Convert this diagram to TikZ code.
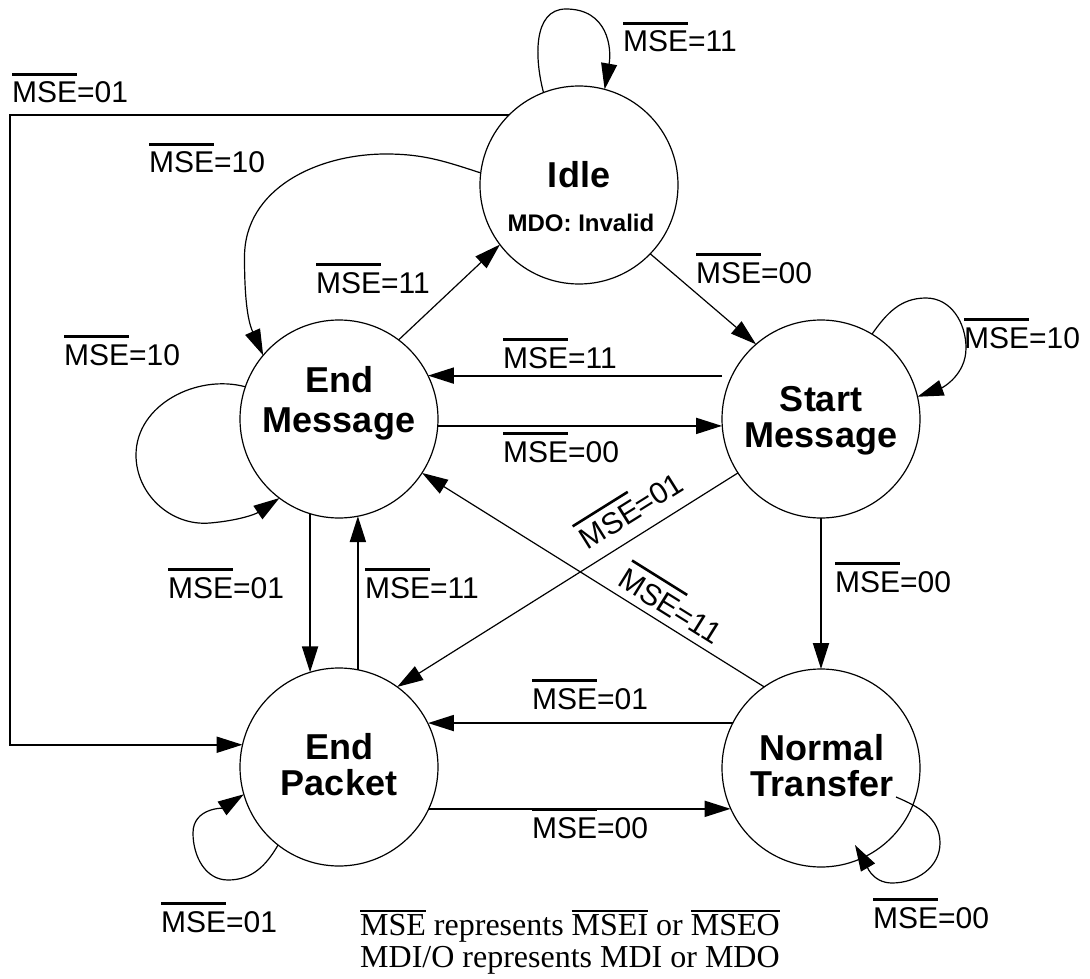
\documentclass[tikz,border=0pt]{standalone}
\usepackage{fontspec}
\setmainfont{Liberation Serif}
\setsansfont{Liberation Sans}
\usetikzlibrary{arrows.meta}

% overlined text: sans labels and serif note
\newcommand\ovl[1]{\vbox{\hrule height 2.6pt\kern 6.5pt\hbox{#1}}}
\newcommand\ovs[1]{\vbox{\hrule height 2pt\kern 1.5pt\hbox{#1}}}

\tikzset{
  state/.style={circle, draw, line width=1.2pt, minimum size=198pt, inner sep=0pt, outer sep=0pt},
  stname/.style={font=\sffamily\bfseries\fontsize{36}{40}\selectfont, anchor=base, inner sep=0pt},
  stsub/.style={font=\sffamily\bfseries\fontsize{24}{28}\selectfont, anchor=base, inner sep=0pt},
  cond/.style={font=\sffamily\fontsize{30}{34}\selectfont, anchor=base west, inner sep=0pt},
  note/.style={font=\fontsize{32}{32}\selectfont, anchor=base west, inner sep=0pt},
  trans/.style={line width=2pt, -{Triangle[length=26pt,width=16pt]}},
  ltrans/.style={line width=1.2pt, -{Triangle[length=26pt,width=16pt]}},
}

\begin{document}
\begin{tikzpicture}[x=1pt,y=1pt]
\useasboundingbox (0,0) rectangle (1090,-979);

% states
\node[state] (idle) at (579,-185) {};
\node[state] (em) at (339,-419) {};
\node[state] (sm) at (821,-419) {};
\node[state] (ep) at (339,-767) {};
\node[state] (nt) at (821,-768) {};

% state names
\node[stname] (idle-t) at (579,-188) {Idle};
\node[stsub] (idle-s) at (581,-231) {MDO: Invalid};
\node[stname] (em-t1) at (339,-392) {End};
\node[stname] (em-t2) at (339,-432) {Message};
\node[stname] (sm-t1) at (821,-411) {Start};
\node[stname] (sm-t2) at (821,-447) {Message};
\node[stname] (ep-t1) at (339,-759) {End};
\node[stname] (ep-t2) at (339,-795) {Packet};
\node[stname] (nt-t1) at (822,-760) {Normal};
\node[stname] (nt-t2) at (822,-796) {Transfer};

\coordinate (lft) at (10,-400);

% transitions
\draw[ltrans] (idle.111) to[out=105,in=180] (566,-9) to[out=0,in=80,looseness=1.2] (idle.75);
\draw[trans] (idle.135) -| (lft) |- (ep.167);
\draw[ltrans] (idle.173) to[out=162,in=0] (386,-154) to[out=180,in=90] (244.5,-257) to[out=-90,in=114] (em.140);
\draw[ltrans] (em.53) -- (idle.217);
\draw[ltrans] (idle.316) -- (sm.131);
\draw[ltrans] (sm.59) to[out=55,in=180] (926,-298) to[out=0,in=90] (966,-348) to[out=-90,in=20] (sm.13);
\draw[trans] (sm.west |- em.26) -- (em.26);
\draw[trans] (em.356) -- (sm.west |- em.356);
\draw[ltrans] (em.161) to[out=165,in=90] (136,-455) to[out=-90,in=185] (210,-523) to[out=5,in=214] (em.233);
\draw[trans] (em.253) -- (ep.107);
\draw[trans] (ep.79) -- (em.281);
\draw[ltrans] (sm.213) -- (ep.54);
\draw[ltrans] (nt.125) -- (em.327);
\draw[trans] (sm.south) -- (nt.north);
\draw[trans] (nt.153) -- (ep.26 |- nt.153);
\draw[trans] (ep.335) -- (nt.204 |- ep.335);
\draw[ltrans] (ep.232) to[out=240,in=0] (228,-880) to[out=180,in=-90] (193,-833) to[out=90,in=213] (ep.196);
\draw[ltrans] ([shift={(75,-29)}]nt.center) to[out=-23,in=90] (940,-843) to[out=-90,in=0] (892,-883) to[out=180,in=-60] ([shift={(34,-77)}]nt.center);

% transition conditions
\node[cond] (l-idle-loop) at (623,-52) {\ovl{MSE}=11};
\node[cond] (l-idle-ep) at (12,-103) {\ovl{MSE}=01};
\node[cond] (l-idle-em) at (149,-173) {\ovl{MSE}=10};
\node[cond] (l-em-idle) at (316,-293) {\ovl{MSE}=11};
\node[cond] (l-idle-sm) at (696,-283) {\ovl{MSE}=00};
\node[cond] (l-sm-loop) at (964,-348) {\ovl{MSE}=10};
\node[cond] (l-sm-em) at (503,-368) {\ovl{MSE}=11};
\node[cond] (l-em-sm) at (503,-462) {\ovl{MSE}=00};
\node[cond] (l-em-loop) at (64,-365) {\ovl{MSE}=10};
\node[cond] (l-em-ep) at (168,-598) {\ovl{MSE}=01};
\node[cond] (l-ep-em) at (365,-598) {\ovl{MSE}=11};
\node[cond, anchor=base, rotate=32] (l-sm-ep) at (637,-520) {\ovl{MSE}=01};
\node[cond, anchor=base, rotate=-32] (l-nt-em) at (665,-615) {\ovl{MSE}=11};
\node[cond] (l-sm-nt) at (835,-592) {\ovl{MSE}=00};
\node[cond] (l-nt-ep) at (532,-709) {\ovl{MSE}=01};
\node[cond] (l-ep-nt) at (532,-838) {\ovl{MSE}=00};
\node[cond] (l-ep-loop) at (161,-932) {\ovl{MSE}=01};
\node[cond] (l-nt-loop) at (873,-928) {\ovl{MSE}=00};

% note
\node[note] (note1) at (360,-935) {\ovs{MSE} represents \ovs{MSEI} or \ovs{MSEO}};
\node[note] (note2) at (360,-967) {MDI/O represents MDI or MDO};
\end{tikzpicture}
\end{document}
